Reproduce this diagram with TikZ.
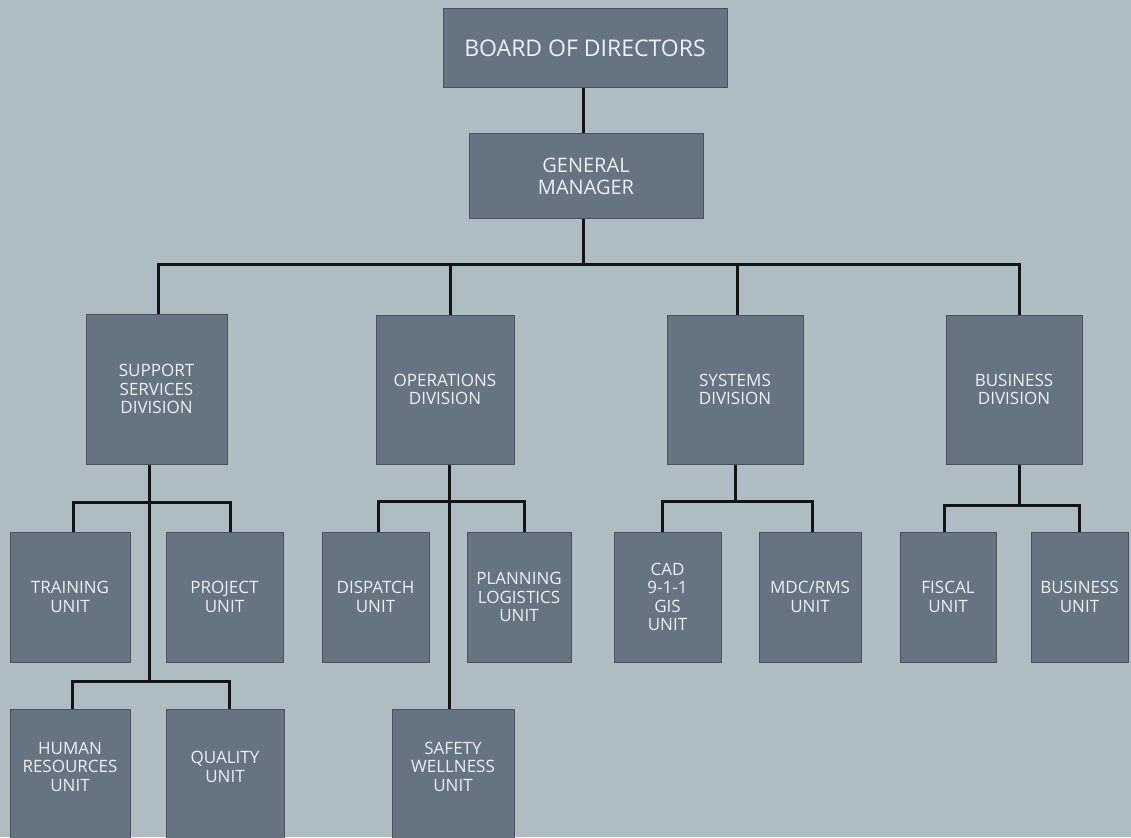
\documentclass[tikz,border=0pt]{standalone}
\usepackage{fontspec}
\setmainfont{Open Sans}
\definecolor{bg}{RGB}{174,188,195}
\definecolor{boxfill}{RGB}{102,116,129}
\definecolor{boxline}{RGB}{72,82,92}
\definecolor{txt}{RGB}{238,241,243}
\definecolor{conncol}{RGB}{20,20,20}
\tikzset{
  orgbox/.style={draw=boxline, line width=1pt, fill=boxfill, text=txt, inner sep=0pt,
    align=center, font=\fontsize{17}{18.5}\selectfont},
  conn/.style={draw=conncol, line width=3pt},
}
\begin{document}
\begin{tikzpicture}[x=1pt,y=-1pt]
\fill[bg] (0,0) rectangle (1131,837);
\useasboundingbox (0,0) rectangle (1131,837);
\clip (0,0) rectangle (1131,837);

% top
\node[orgbox, minimum width=284pt, minimum height=79pt, font=\fontsize{23}{26}\selectfont] (board) at (585,48.5) {BOARD OF DIRECTORS};
\node[orgbox, minimum width=234pt, minimum height=84pt, font=\fontsize{20}{22}\selectfont] (gm) at (586,176) {GENERAL\\MANAGER};

% divisions
\node[orgbox, minimum width=141pt, minimum height=150pt] (sup) at (156.5,389) {SUPPORT\\SERVICES\\DIVISION};
\node[orgbox, minimum width=138pt, minimum height=149pt] (ops) at (445,389.5) {OPERATIONS\\DIVISION};
\node[orgbox, minimum width=136pt, minimum height=149pt] (sys) at (735,389.5) {SYSTEMS\\DIVISION};
\node[orgbox, minimum width=136pt, minimum height=149pt] (bizdiv) at (1014,389.5) {BUSINESS\\DIVISION};

% units
\node[orgbox, minimum width=120pt, minimum height=130pt] (train) at (70,597) {TRAINING\\UNIT};
\node[orgbox, minimum width=117pt, minimum height=130pt] (proj) at (224.5,597) {PROJECT\\UNIT};
\node[orgbox, minimum width=107pt, minimum height=130pt] (disp) at (375.5,597) {DISPATCH\\UNIT};
\node[orgbox, minimum width=104pt, minimum height=130pt] (plan) at (519,597) {PLANNING\\LOGISTICS\\UNIT};
\node[orgbox, minimum width=107pt, minimum height=130pt] (cad) at (667.5,597) {CAD\\9-1-1\\GIS\\UNIT};
\node[orgbox, minimum width=102pt, minimum height=130pt] (mdc) at (810,597) {MDC/RMS\\UNIT};
\node[orgbox, minimum width=96pt, minimum height=130pt] (fisc) at (948,597) {FISCAL\\UNIT};
\node[orgbox, minimum width=97pt, minimum height=130pt] (bunit) at (1079.5,597) {BUSINESS\\UNIT};

% bottom row
\node[orgbox, minimum width=120pt, minimum height=130pt] (hr) at (70,774) {HUMAN\\RESOURCES\\UNIT\\[-4pt]\mbox{}};
\node[orgbox, minimum width=118pt, minimum height=130pt] (qual) at (225,774) {QUALITY\\UNIT\\[-4pt]\mbox{}};
\node[orgbox, minimum width=122pt, minimum height=130pt] (safe) at (453,774) {SAFETY\\WELLNESS\\UNIT\\[-4pt]\mbox{}};

% connectors
\draw[conn] ([xshift=-2pt]board.south) -- ([xshift=-3pt]gm.north);
\draw[conn] ([xshift=-3pt]gm.south) -- ++(0,47);
\draw[conn] ([xshift=1.5pt]sup.north) -- ++(0,-49) -| ([xshift=5pt]bizdiv.north);
\draw[conn] ([xshift=5pt]ops.north) -- ++(0,-50);
\draw[conn] ([xshift=2pt]sys.north) -- ++(0,-50);

\draw[conn] ([xshift=-7pt]sup.south) -- ++(0,218);
\draw[conn] ([xshift=3pt]train.north) -- ++(0,-29) -| ([xshift=5.5pt]proj.north);
\draw[conn] ([xshift=2pt]hr.north) -- ++(0,-27) -| ([xshift=4pt]qual.north);

\draw[conn] ([xshift=4pt]ops.south) -- ([xshift=-4pt]safe.north);
\draw[conn] ([xshift=2.5pt]disp.north) -- ++(0,-30) -| ([xshift=5pt]plan.north);

\draw[conn] (sys.south) -- ++(0,38);
\draw[conn] ([xshift=-5pt]cad.north) -- ++(0,-30) -| ([xshift=2pt]mdc.north);

\draw[conn] ([xshift=5pt]bizdiv.south) -- ++(0,42);
\draw[conn] ([xshift=-4pt]fisc.north) -- ++(0,-26) -| (bunit.north);
\end{tikzpicture}
\end{document}
